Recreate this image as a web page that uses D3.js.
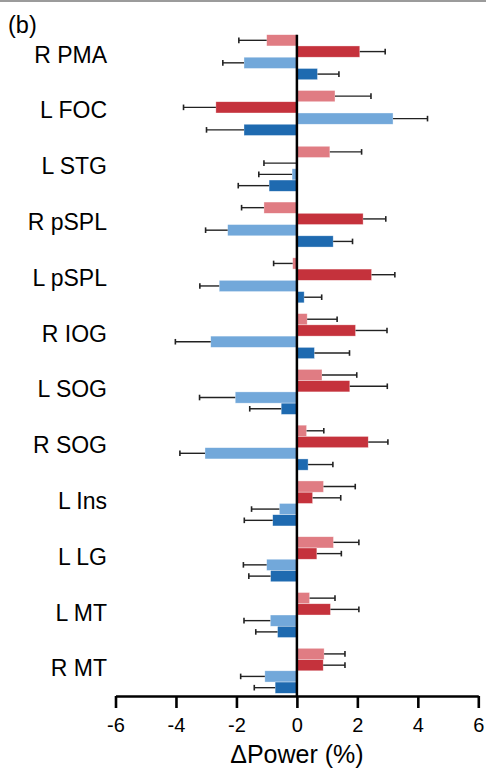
<!DOCTYPE html>
<html>
<head>
<meta charset="utf-8">
<script src="https://cdn.jsdelivr.net/npm/d3@7"></script>
<style>
  body { margin: 0; background: #fff; }
  svg { display: block; font-family: "Liberation Sans", Arial, sans-serif; }
</style>
</head>
<body>
<div id="container"></div>
<script>
// regions, top to bottom
let regions = ["R PMA", "L FOC", "L STG", "R pSPL", "L pSPL", "R IOG", "L SOG", "R SOG", "L Ins", "L LG", "L MT", "R MT"];

// four conditions per region (pink, red, light blue, blue), mean and error
let pinkVals = [-1.00, 1.26, 1.09, -1.09, -0.14, 0.34, 0.83, 0.32, 0.88, 1.21, 0.42, 0.90];
let pinkErr = [0.92, 1.19, 1.05, 0.74, 0.63, 0.99, 1.15, 0.57, 1.05, 0.84, 0.84, 0.69];
let redVals = [2.08, -2.68, -0.02, 2.19, 2.47, 1.94, 1.75, 2.36, 0.52, 0.66, 1.11, 0.87];
let redErr = [0.84, 1.07, 1.07, 0.75, 0.77, 1.04, 1.24, 0.65, 0.93, 0.81, 0.94, 0.72];
let lightBlueVals = [-1.75, 3.18, -0.16, -2.29, -2.57, -2.85, -2.04, -3.04, -0.58, -1.00, -0.88, -1.06];
let lightBlueErr = [0.70, 1.14, 1.10, 0.73, 0.64, 1.17, 1.18, 0.83, 0.92, 0.77, 0.87, 0.80];
let blueVals = [0.68, -1.75, -0.92, 1.20, 0.24, 0.58, -0.52, 0.37, -0.80, -0.87, -0.64, -0.72];
let blueErr = [0.71, 1.24, 1.02, 0.64, 0.58, 1.16, 1.04, 0.82, 0.94, 0.72, 0.72, 0.69];

let xTicks = [-6, -4, -2, 0, 2, 4, 6];
let xLabel = "ΔPower (%)";
let panelLabel = "(b)";

let width = 486;
let height = 773;

let series = [
  { key: "pink", vals: pinkVals, err: pinkErr, color: "#e07c83" },
  { key: "red", vals: redVals, err: redErr, color: "#c5323c" },
  { key: "lightblue", vals: lightBlueVals, err: lightBlueErr, color: "#72a8da" },
  { key: "blue", vals: blueVals, err: blueErr, color: "#1e6ab0" }
];

let axisY = 696;

let x = d3.scaleLinear().domain([-6, 6]).range([115.5, 478.3]);

let y0 = d3.scaleBand()
  .domain(regions)
  .range([34.7, 693.3])
  .paddingInner(0.193)
  .paddingOuter(0);

let y1 = d3.scaleBand()
  .domain(series.map(d => d.key))
  .range([0, y0.bandwidth()]);

let svg = d3.select("#container")
  .append("svg")
  .attr("width", width)
  .attr("height", height);

// top rule
svg.append("line")
  .attr("x1", 0).attr("x2", width)
  .attr("y1", 1).attr("y2", 1)
  .attr("stroke", "#7a7a7a")
  .attr("stroke-width", 1.6);

svg.append("text")
  .attr("x", 8)
  .attr("y", 32.5)
  .attr("font-size", 23.5)
  .attr("fill", "#000")
  .text(panelLabel);

let rows = [];
regions.forEach(function (r, i) {
  series.forEach(function (s) {
    rows.push({ region: r, key: s.key, v: s.vals[i], e: s.err[i], color: s.color });
  });
});

const g = svg.append("g");

g.selectAll(".bar")
  .data(rows)
  .enter()
  .append("rect")
  .attr("class", "bar")
  .attr("x", d => x(Math.min(0, d.v)))
  .attr("width", d => Math.abs(x(d.v) - x(0)))
  .attr("y", d => y0(d.region) + y1(d.key))
  .attr("height", y1.bandwidth())
  .attr("fill", d => d.color)
  .attr("stroke", "#fff")
  .attr("stroke-opacity", 0.6)
  .attr("stroke-width", 0.6);

// error bars, one-sided, away from zero
function errEnd(d) {
  return d.v < 0 ? d.v - d.e : d.v + d.e;
}

g.selectAll(".err")
  .data(rows)
  .enter()
  .append("line")
  .attr("class", "err")
  .attr("x1", d => x(d.v))
  .attr("x2", d => x(errEnd(d)))
  .attr("y1", d => y0(d.region) + y1(d.key) + y1.bandwidth() / 2)
  .attr("y2", d => y0(d.region) + y1(d.key) + y1.bandwidth() / 2)
  .attr("stroke", "#222")
  .attr("stroke-width", 1.4);

g.selectAll(".cap")
  .data(rows)
  .enter()
  .append("line")
  .attr("class", "cap")
  .attr("x1", d => x(errEnd(d)))
  .attr("x2", d => x(errEnd(d)))
  .attr("y1", d => y0(d.region) + y1(d.key) + y1.bandwidth() / 2 - 2.8)
  .attr("y2", d => y0(d.region) + y1(d.key) + y1.bandwidth() / 2 + 2.8)
  .attr("stroke", "#222")
  .attr("stroke-width", 1.6);

// zero line
svg.append("line")
  .attr("x1", x(0)).attr("x2", x(0))
  .attr("y1", y0.range()[0])
  .attr("y2", axisY)
  .attr("stroke", "#000")
  .attr("stroke-width", 2.5);

// region labels
svg.selectAll(".region")
  .data(regions)
  .enter()
  .append("text")
  .attr("class", "region")
  .attr("x", 107)
  .attr("y", d => y0(d) + y0.bandwidth() / 2 + 5.5)
  .attr("text-anchor", "end")
  .attr("font-size", 23)
  .attr("fill", "#000")
  .text(d => d);

// x axis
let xAxis = svg.append("g")
  .attr("transform", "translate(0," + axisY + ")")
  .call(d3.axisBottom(x)
    .tickValues(xTicks)
    .tickFormat(d => String(d))
    .tickSize(12)
    .tickSizeOuter(0)
    .tickPadding(10));

xAxis.select(".domain")
  .attr("stroke", "#000")
  .attr("stroke-width", 2.6);
xAxis.selectAll(".tick line")
  .attr("stroke", "#000")
  .attr("stroke-width", 2.6);
xAxis.selectAll(".tick text")
  .attr("font-family", "Liberation Sans, Arial, sans-serif")
  .attr("font-size", 20)
  .attr("fill", "#000");

svg.append("text")
  .attr("x", x(0))
  .attr("y", 763)
  .attr("text-anchor", "middle")
  .attr("font-size", 25)
  .attr("fill", "#000")
  .text(xLabel);
</script>
</body>
</html>
